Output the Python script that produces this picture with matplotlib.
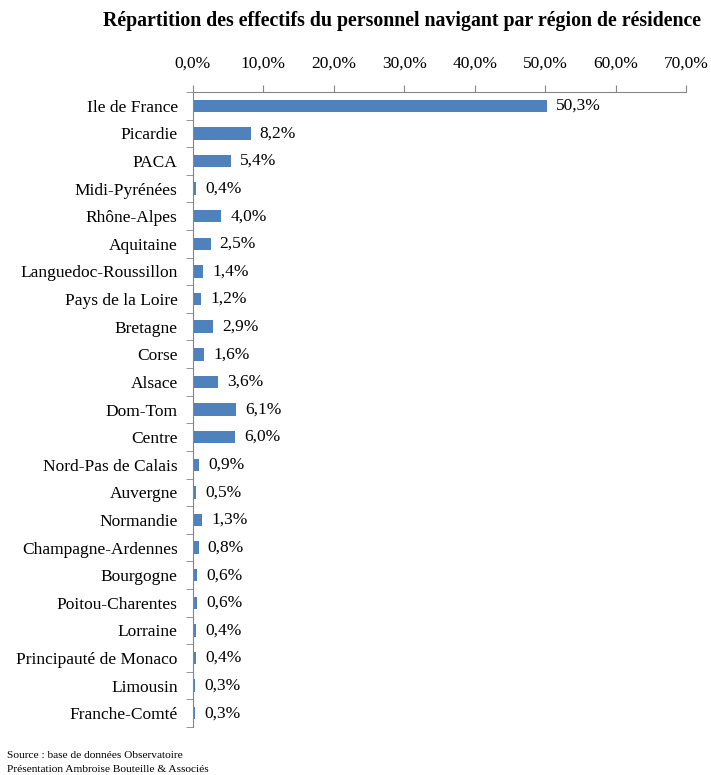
import matplotlib.pyplot as plt
from matplotlib.ticker import FixedLocator, NullFormatter

plt.rcParams['font.family'] = ['Liberation Serif', 'DejaVu Serif']

regions = ["Ile de France", "Picardie", "PACA", "Midi-Pyrénées", "Rhône-Alpes",
           "Aquitaine", "Languedoc-Roussillon", "Pays de la Loire", "Bretagne",
           "Corse", "Alsace", "Dom-Tom", "Centre", "Nord-Pas de Calais",
           "Auvergne", "Normandie", "Champagne-Ardennes", "Bourgogne",
           "Poitou-Charentes", "Lorraine", "Principauté de Monaco", "Limousin",
           "Franche-Comté"]
shares = [50.3, 8.2, 5.4, 0.4, 4.0, 2.5, 1.4, 1.2, 2.9, 1.6, 3.6, 6.1, 6.0,
          0.9, 0.5, 1.3, 0.8, 0.6, 0.6, 0.4, 0.4, 0.3, 0.3]
xticks = [0, 10, 20, 30, 40, 50, 60, 70]

fig = plt.figure(figsize=(7.11, 7.75), dpi=100)
ax = fig.add_axes([0.2714, 0.0619, 0.6934, 0.8194])

y = list(range(len(regions)))
ax.barh(y, shares, height=0.45, color="#4F81BD")
for yi, v in zip(y, shares):
    ax.text(v + 1.3, yi, f"{v:.1f}%".replace(".", ","), va="center", ha="left",
            fontsize=12.5)

ax.set_xlim(0, 70)
ax.set_ylim(len(regions) - 0.5, -0.5)
ax.xaxis.tick_top()
ax.set_xticks(xticks)
ax.set_xticklabels([f"{t:.1f}%".replace(".", ",") for t in xticks], fontsize=12.5)
ax.tick_params(axis="x", length=5, color="#868686", pad=10)

ax.set_yticks(y)
ax.set_yticklabels(regions, fontsize=12.5)
ax.tick_params(axis="y", length=0, pad=11)
ax.yaxis.set_minor_locator(FixedLocator([i + 0.5 for i in range(-1, len(regions))]))
ax.yaxis.set_minor_formatter(NullFormatter())
ax.tick_params(axis="y", which="minor", length=5, color="#868686")

for s in ["right", "bottom"]:
    ax.spines[s].set_visible(False)
for s in ["top", "left"]:
    ax.spines[s].set_color("#868686")

fig.text(0.565, 0.973, "Répartition des effectifs du personnel navigant par région de résidence",
         ha="center", va="center", fontsize=14.3, fontweight="bold")
fig.text(0.01, 0.025, "Source : base de données Observatoire", fontsize=8.2, va="center")
fig.text(0.01, 0.007, "Présentation Ambroise Bouteille & Associés", fontsize=8.2, va="center")

fig.savefig("out.png", dpi=100)
